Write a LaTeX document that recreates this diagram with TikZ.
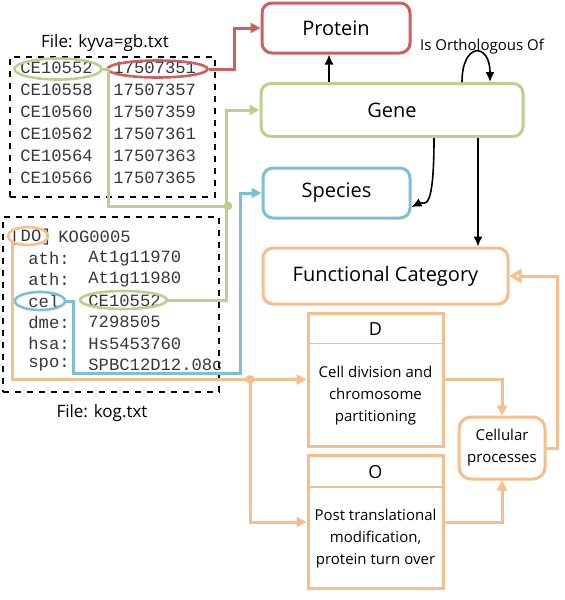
\documentclass[tikz,border=0pt]{standalone}
\usepackage{fontspec}
\setmainfont{Open Sans}
\setmonofont{Liberation Mono}
\usetikzlibrary{arrows.meta,shapes.geometric}
\definecolor{protred}{RGB}{205,95,95}
\definecolor{genegreen}{RGB}{185,208,145}
\definecolor{specblue}{RGB}{125,192,214}
\definecolor{catorange}{RGB}{247,190,140}
\definecolor{idgray}{RGB}{55,55,55}

\tikzset{
    entity box/.style={
        draw,line width=1.5pt,rounded corners=5pt,
        font=\fontsize{10}{12}\selectfont
    },
    cat box/.style={
        draw=catorange,line width=1.5pt,
        minimum width=67.5pt,minimum height=66.5pt
    },
    cat text/.style={
        align=center,font=\fontsize{7.5}{11}\selectfont
    },
    file box/.style={
        draw,dashed,line width=.9pt,inner sep=0pt
    },
    file label/.style={
        font=\fontsize{8.5}{10}\selectfont
    },
    id text/.style={
        anchor=west,inner sep=0pt,text=idgray,
        font=\ttfamily\fontsize{8.6}{10}\selectfont
    },
    id oval/.style={
        draw,ellipse,line width=1.3pt,inner sep=0pt
    },
    link/.style={
        line width=1.5pt,-{Triangle[length=5pt,width=5pt]}
    },
    rel/.style={
        line width=.8pt,-{Latex[length=5pt,width=4.5pt]}
    }
}

\begin{document}
\begin{tikzpicture}[x=0.5pt,y=-0.5pt]
    \useasboundingbox (0,0) rectangle (564,600);
    % entities
    \node[entity box,draw=protred,minimum width=74pt,minimum height=25pt] (protein) at (336,28) {Protein};
    \node[entity box,draw=genegreen,minimum width=131pt,minimum height=26.5pt] (gene) at (392,110) {Gene};
    \node[entity box,draw=specblue,minimum width=73.5pt,minimum height=25pt] (species) at (336.5,193) {Species};
    \node[entity box,draw=catorange,minimum width=122.5pt,minimum height=28pt] (fc) at (385.5,276) {Functional Category};

    % categories
    \node[cat box] (D) at (375.5,379.5) {};
    \node[font=\fontsize{9}{10}\selectfont] (Dh) at (375.5,329) {D};
    \draw[catorange,line width=.6pt] ([yshift=-16pt]D.north west) -- ([yshift=-16pt]D.north east);
    \node[cat text] (Dt) at (375.5,396) {Cell division and\\chromosome\\partitioning};
    \node[cat box] (O) at (375.5,522) {};
    \node[font=\fontsize{9}{10}\selectfont] (Oh) at (375.5,472) {O};
    \draw[catorange,line width=.6pt] ([yshift=-16.5pt]O.north west) -- ([yshift=-16.5pt]O.north east);
    \node[cat text] (Ot) at (375.5,539) {Post translational\\modification,\\protein turn over};
    \node[draw=catorange,line width=1.5pt,rounded corners=6pt,minimum width=43pt,minimum height=31pt,
        cat text,inner sep=1pt] (cell) at (502,448) {Cellular\\processes};

    % file kyva=gb.txt
    \node[file box,minimum width=102.5pt,minimum height=70pt] (gbfile) at (112.5,127) {};
    \node[file label] (gblabel) at (105,43) {File: kyva=gb.txt};
    \foreach \i/\gid/\pid in {0/CE10552/17507351,1/CE10558/17507357,2/CE10560/17507359,
                              3/CE10562/17507361,4/CE10564/17507363,5/CE10566/17507365}{
        \node[id text] (g\i) at (20,68+22*\i) {\gid};
        \node[id text] (p\i) at (113,68+22*\i) {\pid};
    }
    \node[id oval,draw=genegreen,minimum width=43.5pt,minimum height=10.5pt] (gbgene) at (58,69) {};
    \node[id oval,draw=protred,minimum width=50pt,minimum height=8.5pt] (gbprot) at (157.5,69) {};

    % file kog.txt
    \node[file box,minimum width=108pt,minimum height=87.5pt] (kogfile) at (111,304.5) {};
    \node[file label] (koglabel) at (102,413) {File: kog.txt};
    \node[id text] (k0) at (10,237) {[DO]};
    \node[id text] (v0) at (58,237) {KOG0005};
    \foreach \i/\sp/\kid in {1/ath:/At1g11970,2/ath:/At1g11980,3/cel/CE10552,
                             4/dme:/7298505,5/hsa:/Hs5453760,6/spo:/SPBC12D12.08c}{
        \node[id text] (k\i) at (28,237+21.3*\i) {\sp};
        \node[id text] (v\i) at (88,237+21.3*\i) {\kid};
    }
    \node[id oval,draw=catorange,minimum width=20pt,minimum height=9pt] (kcat) at (28,236) {};
    \node[id oval,draw=specblue,minimum width=25pt,minimum height=9pt] (kcel) at (40,301) {};
    \node[id oval,draw=genegreen,minimum width=43.5pt,minimum height=9pt] (kgene) at (123.5,300) {};

    % links from the files
    \coordinate (gjoin) at (228,206);
    \coordinate (bturn) at (240,373);
    \coordinate (ojoin) at (250,379.5);
    \draw[link,protred] (gbprot.east) -- ++(26,0) |- (protein.west);
    \draw[line width=1.5pt,genegreen] (gbgene.east) -- ++(6,0) |- (gjoin);
    \draw[link,genegreen] (kgene.east) -| ([xshift=-16.5pt]gene.west) -- (gene.west);
    \fill[genegreen] (gjoin) circle (2.2pt);
    \draw[link,specblue] (kcel.east) -- ++(7,0) |- (bturn) |- (species.west);
    \draw[link,catorange] (kcat.south west) |- (D.west);
    \draw[link,catorange] (ojoin) |- (O.west);
    \fill[catorange] (ojoin) circle (2.2pt);
    \draw[link,catorange] (D.east) -| (cell.north);
    \draw[link,catorange] (O.east) -| (cell.south);
    \draw[line width=1.5pt,catorange,-{Triangle[open,length=6pt,width=7pt]}] (cell.east) -- ++(11,0) |- (fc.east);

    % relations
    \draw[rel] ([xshift=-3.5pt]protein.south |- gene.north) -- ([xshift=-3.5pt]protein.south);
    \draw[rel] ([xshift=35pt]gene.north) .. controls +(0,-40) and +(0,-40) .. ([xshift=49pt]gene.north);
    \node[font=\fontsize{7.5}{9}\selectfont] (ortho) at (482,47) {Is Orthologous Of};
    \draw[rel] ([xshift=21pt]gene.south) .. controls +(0,80) and +(12,-6) .. ([yshift=-7pt]species.east);
    \draw[rel] ([xshift=43pt]gene.south) -- ([xshift=43pt]gene.south |- fc.north);
\end{tikzpicture}
\end{document}
